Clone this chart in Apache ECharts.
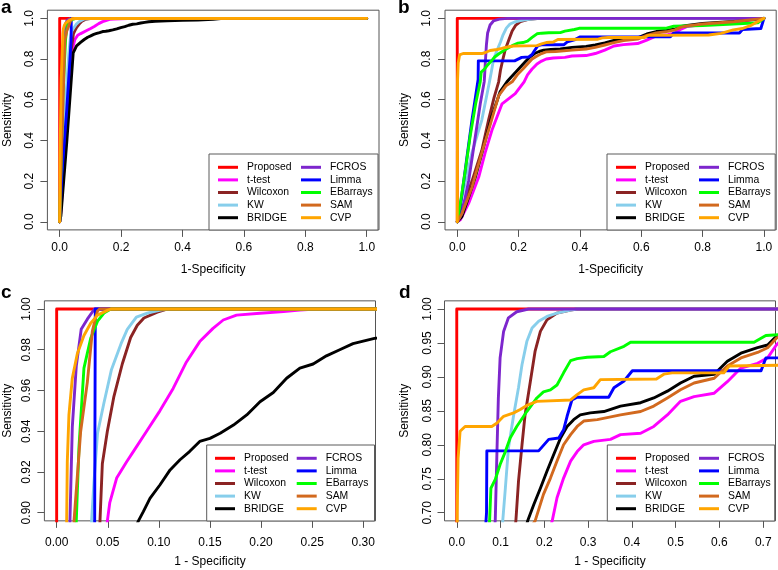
<!DOCTYPE html>
<html><head><meta charset="utf-8">
<script src="https://cdn.jsdelivr.net/npm/echarts@6/dist/echarts.min.js"></script>
<style>html,body{margin:0;padding:0;background:#fff}#c{width:778px;height:570px}</style>
</head><body><div id="c"></div>
<script>
// ---------- data ----------
const METHODS = ['Proposed','t-test','Wilcoxon','KW','BRIDGE','FCROS','Limma','EBarrays','SAM','CVP'];

// Simulation set 1 (panels a and c): [1-specificity, sensitivity]
const A_PROPOSED = [[0,0],[0,1],[1,1]];
const A_TTEST = [[0,0],[0.004,0.05],[0.02,0.4],[0.04,0.82],[0.045,0.87],[0.0496,0.896],[0.052,0.905],[0.0587,0.917],[0.0685,0.925],[0.075,0.93],[0.088,0.94],[0.101,0.95],[0.114,0.961],[0.127,0.974],[0.14,0.984],[0.153,0.9905],[0.163,0.9946],[0.176,0.997],[0.199,0.9979],[0.222,0.9987],[0.238,0.9995],[0.254,1],[1,1]];
const A_WILCOXON = [[0,0],[0.005,0.1],[0.02,0.5],[0.036,0.83],[0.0424,0.896],[0.0447,0.924],[0.0496,0.94],[0.056,0.957],[0.0642,0.973],[0.0724,0.986],[0.0789,0.992],[0.0854,0.9956],[0.0985,0.9985],[0.108,1],[1,1]];
const A_KW = [[0,0],[0.004,0.1],[0.015,0.5],[0.03,0.83],[0.0342,0.896],[0.0365,0.915],[0.04,0.939],[0.0463,0.954],[0.0535,0.97],[0.063,0.983],[0.0691,0.99],[0.078,0.996],[0.0887,0.998],[0.1017,0.9995],[0.11,1],[1,1]];
const A_BRIDGE = [[0,0],[0.004,0.03],[0.023,0.39],[0.044,0.83],[0.055,0.865],[0.068,0.882],[0.08,0.896],[0.0848,0.9005],[0.0913,0.907],[0.101,0.9136],[0.111,0.921],[0.1207,0.926],[0.13,0.93],[0.14,0.935],[0.15,0.9365],[0.16,0.939],[0.173,0.943],[0.186,0.948],[0.199,0.9545],[0.212,0.959],[0.225,0.966],[0.238,0.971],[0.251,0.973],[0.264,0.977],[0.277,0.98],[0.29,0.983],[0.311,0.9856],[0.35,0.988],[0.4,0.99],[0.45,0.992],[0.5,0.995],[0.533,1],[1,1]];
const A_FCROS = [[0,0],[0.002,0.2],[0.008,0.6],[0.013,0.896],[0.0153,0.942],[0.0192,0.972],[0.024,0.99],[0.03,0.995],[0.037,1],[1,1]];
const A_LIMMA = [[0,0],[0.0065,0.22],[0.023,0.55],[0.0335,0.8],[0.0372,0.896],[0.0378,1],[1,1]];
const A_EBARRAYS = [[0,0],[0.003,0.2],[0.01,0.6],[0.0192,0.896],[0.0218,0.932],[0.0267,0.971],[0.0333,0.9856],[0.04,0.994],[0.0463,0.998],[0.053,1],[1,1]];
const A_SAM = [[0,0],[0.003,0.2],[0.011,0.6],[0.017,0.896],[0.0235,0.94],[0.03,0.964],[0.0349,0.989],[0.038,0.9956],[0.04,0.999],[0.042,1],[1,1]];
const A_CVP = [[0,0],[0.001,0.3],[0.005,0.7],[0.0098,0.896],[0.0104,0.925],[0.012,0.948],[0.0153,0.966],[0.0202,0.978],[0.0267,0.987],[0.0333,0.993],[0.04,0.997],[0.0496,0.9993],[0.053,1],[1,1]];

// Simulation set 2 (panels b and d)
const B_PROPOSED = [[0,0],[0,1],[1,1]];
const B_TTEST = [[0,0],[0.01,0.01],[0.037,0.09],[0.07,0.22],[0.091,0.34],[0.113,0.45],[0.146,0.58],[0.189,0.63],[0.218,0.688],[0.229,0.722],[0.244,0.751],[0.26,0.776],[0.275,0.79],[0.29,0.8],[0.313,0.805],[0.351,0.808],[0.374,0.815],[0.42,0.817],[0.45,0.827],[0.481,0.844],[0.511,0.864],[0.542,0.871],[0.588,0.876],[0.618,0.893],[0.649,0.913],[0.687,0.92],[0.71,0.928],[0.73,0.947],[0.75,0.96],[0.8,0.97],[0.9,0.98],[1,1]];
const B_WILCOXON = [[0,0],[0.015,0.06],[0.048,0.2],[0.08,0.35],[0.102,0.5],[0.12,0.61],[0.135,0.688],[0.141,0.746],[0.149,0.8],[0.156,0.844],[0.168,0.893],[0.179,0.938],[0.191,0.967],[0.206,0.984],[0.229,0.994],[0.26,0.9985],[0.275,1],[1,1]];
const B_KW = [[0,0],[0.015,0.12],[0.048,0.34],[0.08,0.5],[0.1,0.65],[0.105,0.688],[0.111,0.736],[0.118,0.795],[0.13,0.844],[0.141,0.884],[0.149,0.918],[0.16,0.952],[0.172,0.972],[0.187,0.982],[0.206,0.989],[0.229,0.994],[0.26,0.9985],[0.275,1],[1,1]];
const B_BRIDGE = [[0,0],[0.015,0.025],[0.037,0.12],[0.059,0.22],[0.086,0.37],[0.113,0.52],[0.14,0.64],[0.162,0.688],[0.176,0.712],[0.191,0.736],[0.206,0.761],[0.221,0.785],[0.237,0.81],[0.252,0.827],[0.267,0.837],[0.282,0.844],[0.305,0.847],[0.336,0.849],[0.374,0.857],[0.42,0.862],[0.45,0.869],[0.481,0.879],[0.511,0.891],[0.542,0.901],[0.588,0.904],[0.618,0.923],[0.649,0.935],[0.687,0.943],[0.71,0.947],[0.73,0.96],[0.75,0.965],[0.8,0.975],[0.9,0.985],[1,1]];
const B_FCROS = [[0,0],[0.015,0.04],[0.037,0.2],[0.059,0.42],[0.075,0.58],[0.088,0.69],[0.092,0.795],[0.095,0.869],[0.099,0.928],[0.107,0.967],[0.118,0.987],[0.137,0.996],[0.164,1],[1,1]];
const B_LIMMA = [[0,0],[0.005,0.02],[0.03,0.3],[0.048,0.5],[0.06,0.62],[0.068,0.7],[0.0687,0.791],[0.187,0.791],[0.21,0.808],[0.233,0.81],[0.244,0.822],[0.252,0.842],[0.263,0.866],[0.275,0.87],[0.347,0.87],[0.359,0.884],[0.382,0.894],[0.401,0.909],[0.695,0.909],[0.706,0.928],[0.92,0.928],[0.93,0.945],[0.99,0.95],[1,1]];
const B_EBARRAYS = [[0,0],[0.01,0.09],[0.026,0.25],[0.042,0.42],[0.06,0.58],[0.075,0.688],[0.078,0.736],[0.088,0.749],[0.099,0.771],[0.111,0.79],[0.122,0.81],[0.137,0.827],[0.16,0.849],[0.183,0.869],[0.198,0.878],[0.214,0.881],[0.229,0.888],[0.244,0.906],[0.26,0.924],[0.275,0.927],[0.298,0.929],[0.336,0.93],[0.351,0.937],[0.382,0.945],[0.397,0.951],[0.679,0.951],[0.706,0.961],[0.8,0.965],[0.9,0.972],[0.98,0.978],[1,1]];
const B_SAM = [[0,0],[0.015,0.04],[0.048,0.17],[0.08,0.34],[0.108,0.48],[0.135,0.62],[0.16,0.67],[0.179,0.688],[0.198,0.727],[0.214,0.751],[0.229,0.776],[0.244,0.8],[0.26,0.815],[0.275,0.827],[0.29,0.835],[0.321,0.837],[0.374,0.844],[0.42,0.849],[0.45,0.857],[0.481,0.869],[0.511,0.881],[0.542,0.891],[0.588,0.898],[0.618,0.916],[0.649,0.928],[0.687,0.936],[0.71,0.943],[0.73,0.957],[0.75,0.963],[0.8,0.972],[0.9,0.983],[1,1]];
const B_CVP = [[0,0],[0.001,0.7],[0.003,0.78],[0.0076,0.82],[0.019,0.827],[0.08,0.827],[0.092,0.832],[0.107,0.842],[0.13,0.847],[0.145,0.852],[0.16,0.858],[0.183,0.864],[0.26,0.866],[0.275,0.874],[0.29,0.881],[0.313,0.884],[0.328,0.896],[0.456,0.897],[0.473,0.904],[0.492,0.906],[0.61,0.906],[0.622,0.916],[0.82,0.918],[0.86,0.926],[0.9,0.943],[0.93,0.95],[0.96,0.967],[1,1]];

// Tick labels
const TICKS_01 = [0, 0.2, 0.4, 0.6, 0.8, 1];
const TICKS_C_X = [0, 0.05, 0.1, 0.15, 0.2, 0.25, 0.3];
const TICKS_C_Y = [0.9, 0.92, 0.94, 0.96, 0.98, 1];
const TICKS_D_X = [0, 0.1, 0.2, 0.3, 0.4, 0.5, 0.6, 0.7];
const TICKS_D_Y = [0.7, 0.75, 0.8, 0.85, 0.9, 0.95, 1];

const SET_A = [A_PROPOSED, A_TTEST, A_WILCOXON, A_KW, A_BRIDGE, A_FCROS, A_LIMMA, A_EBARRAYS, A_SAM, A_CVP];
const SET_B = [B_PROPOSED, B_TTEST, B_WILCOXON, B_KW, B_BRIDGE, B_FCROS, B_LIMMA, B_EBARRAYS, B_SAM, B_CVP];

// ---------- styling / layout ----------
const COLORS = ['#FF0000','#FF00FF','#8B2323','#87CEEB','#000000','#7D26CD','#0000FF','#00FF00','#D2691E','#FFA500'];
const FONT = 'Liberation Sans, Arial, Helvetica, sans-serif';

const PANELS = [
  {letter:'a', set:SET_A, grid:{left:47.4, top:10.2, width:331.6, height:219.7},
   x:[-0.04,1.04], y:[-0.04,1.04], xt:TICKS_01, yt:TICKS_01, xd:1, yd:1, xname:'1-Specificity',
   xMargin:12, yMargin:12, xGap:34, yGap:34,
   leg:{left:209, top:154, padL:9, col:83, padT:7}, lt:{left:1, top:-2}},
  {letter:'b', set:SET_B, grid:{left:445.0, top:10.2, width:331.2, height:219.7},
   x:[-0.04,1.04], y:[-0.04,1.04], xt:TICKS_01, yt:TICKS_01, xd:1, yd:1, xname:'1-Specificity',
   xMargin:12, yMargin:12, xGap:34, yGap:34,
   leg:{left:607, top:154, padL:9, col:83, padT:7}, lt:{left:398, top:-2}},
  {letter:'c', set:SET_A, grid:{left:44.4, top:300.85, width:331.1, height:220},
   x:[-0.012,0.312], y:[0.896,1.004], xt:TICKS_C_X, yt:TICKS_C_Y, xd:2, yd:2, xname:'1 - Specificity',
   xMargin:16, yMargin:12, xGap:35, yGap:31,
   leg:{left:206.7, top:445, padL:8.3, col:81.7, padT:7}, lt:{left:1, top:283}},
  {letter:'d', set:SET_B, grid:{left:444.5, top:300.85, width:331, height:220},
   x:[-0.028,0.728], y:[0.688,1.012], xt:TICKS_D_X, yt:TICKS_D_Y, xd:1, yd:2, xname:'1 - Specificity',
   xMargin:16, yMargin:11, xGap:35, yGap:34,
   leg:{left:607.3, top:445, padL:8.7, col:83, padT:7}, lt:{left:399, top:283}}
];

const LINE_W = 2.9;
const ROW_H = 12.6;

const grid = [], xAxis = [], yAxis = [], series = [], legend = [], title = [];
PANELS.forEach((p, i) => {
  grid.push(Object.assign({show:true, borderColor:'#555', borderWidth:1, backgroundColor:'transparent', containLabel:false}, p.grid));
  const tickStyle = {show:true, inside:false, length:7, lineStyle:{color:'#555', width:1}};
  xAxis.push({
    type:'value', gridIndex:i, min:p.x[0], max:p.x[1],
    axisLine:{show:false, onZero:false}, splitLine:{show:false},
    axisTick:Object.assign({customValues:p.xt}, tickStyle),
    axisLabel:{customValues:p.xt, formatter:v => v.toFixed(p.xd), margin:p.xMargin, color:'#000', fontSize:12, fontFamily:FONT},
    name:p.xname, nameLocation:'middle', nameGap:p.xGap,
    nameTextStyle:{color:'#000', fontSize:12, fontFamily:FONT}
  });
  yAxis.push({
    type:'value', gridIndex:i, min:p.y[0], max:p.y[1],
    axisLine:{show:false, onZero:false}, splitLine:{show:false},
    axisTick:Object.assign({customValues:p.yt}, tickStyle),
    axisLabel:{customValues:p.yt, formatter:v => v.toFixed(p.yd), margin:p.yMargin, rotate:90, color:'#000', fontSize:12, fontFamily:FONT},
    name:'Sensitivity', nameLocation:'middle', nameGap:p.yGap,
    nameTextStyle:{color:'#000', fontSize:12, fontFamily:FONT}
  });
  METHODS.forEach((m, k) => {
    series.push({
      type:'line', name:m, xAxisIndex:i, yAxisIndex:i, data:p.set[k],
      showSymbol:false, symbol:'none', clip:true, animation:false,
      lineStyle:{width:LINE_W, color:COLORS[k], join:'round', cap:'round'}, itemStyle:{color:COLORS[k]},
      emphasis:{disabled:true}, z:2 + k * 0.01
    });
  });
  const gridRight = p.grid.left + p.grid.width;
  const padR = 4;
  const col1W = p.leg.col - 25 - 4;
  const col2W = gridRight - p.leg.left - p.leg.padL - p.leg.col - 29 - padR - 1;
  legend.push({
    show:true, orient:'vertical', left:p.leg.left, top:p.leg.top, height:5 * ROW_H + 0.5,
    itemGap:0, itemWidth:20, itemHeight:3, icon:'rect', selectedMode:false,
    padding:[p.leg.padT, padR, 6, p.leg.padL],
    borderColor:'#5a5a5a', borderWidth:1, backgroundColor:'#fff',
    textStyle:{fontSize:10.4, fontFamily:FONT, color:'#000', lineHeight:ROW_H, padding:[0,0,0,4]},
    data:METHODS.map((m, k) => ({name:m, textStyle:{width: k < 5 ? col1W : col2W}}))
  });
  title.push({text:p.letter, left:p.lt.left, top:p.lt.top, padding:0,
    textStyle:{fontSize:19, fontWeight:'bold', color:'#000', fontFamily:FONT}});
});

const chart = echarts.init(document.getElementById('c'), null, {renderer:'canvas'});
chart.setOption({animation:false, backgroundColor:'#fff', title, grid, xAxis, yAxis, legend, series, tooltip:{show:false}});
</script></body></html>
